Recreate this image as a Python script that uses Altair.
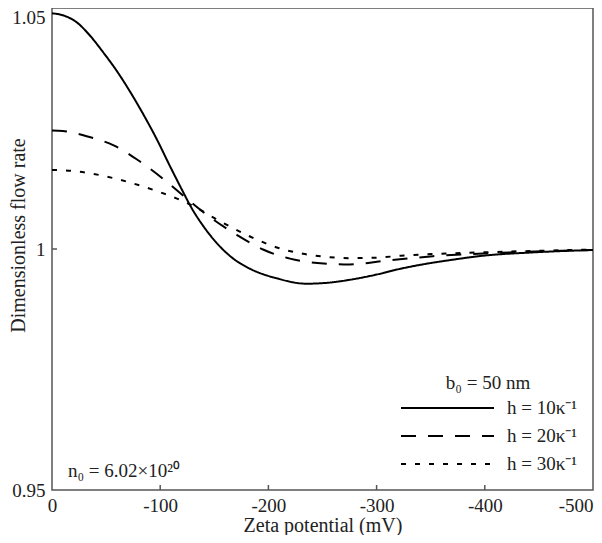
import altair as alt
import pandas as pd

# ---- data ----
series_names = ["h = 10κ⁻¹", "h = 20κ⁻¹", "h = 30κ⁻¹"]

zeta_10 = [0, -10, -23, -35, -47, -60, -72, -84, -97, -109, -121, -128, -140, -152, -167,
           -183, -208, -235, -255, -275, -300, -322, -345, -368, -398, -445, -500]
flow_10 = [1.0489, 1.0485, 1.0470, 1.0443, 1.0409, 1.0369, 1.0327, 1.0281, 1.0227, 1.0172,
           1.0119, 1.0089, 1.0047, 1.0013, 0.9981, 0.9959, 0.9939, 0.9928, 0.9930, 0.9936,
           0.9947, 0.9959, 0.9969, 0.9977, 0.9986, 0.9993, 0.9998]

zeta_20 = [0, -10, -32, -57, -81, -103, -120, -128, -146, -171, -195, -220, -251, -275,
           -306, -352, -414, -500]
flow_20 = [1.0246, 1.0245, 1.0234, 1.0215, 1.0182, 1.0145, 1.0113, 1.0098, 1.0066, 1.0029,
           0.9999, 0.9980, 0.9970, 0.9968, 0.9975, 0.9985, 0.9992, 0.9998]

zeta_30 = [0, -23, -47, -72, -97, -115, -128, -155, -183, -208, -232, -257, -275, -300,
           -322, -383, -445, -500]
flow_30 = [1.0164, 1.0161, 1.0152, 1.0138, 1.0120, 1.0105, 1.0092, 1.0058, 1.0026, 1.0003,
           0.9990, 0.9983, 0.9981, 0.9982, 0.9986, 0.9992, 0.9996, 0.9999]

x_ticks = [0, -100, -200, -300, -400, -500]
y_ticks = [0.95, 1, 1.05]
x_inner_ticks = [-100, -200, -300, -400]
y_inner_ticks = [1]

legend_title = "b₀ = 50 nm"
note_text = "n₀ = 6.02×10²⁰"
x_title = "Zeta potential (mV)"
y_title = "Dimensionless flow rate"

# ---- table built from the arrays ----
rows = []
for name, xs, ys in zip(series_names, [zeta_10, zeta_20, zeta_30], [flow_10, flow_20, flow_30]):
    for i, (xv, yv) in enumerate(zip(xs, ys)):
        rows.append({"series": name, "zeta": xv, "flow": yv, "order": i})
df = pd.DataFrame(rows)

W, H = 541, 482
FONT = "Liberation Serif"
INK = "#222222"
FRAME = "#555555"

xscale = alt.Scale(domain=[0, -500], nice=False)
yscale = alt.Scale(domain=[0.95, 1.05], nice=False, zero=False)

x_axis = alt.Axis(values=x_ticks, title=x_title,
                  labelExpr="datum.value == 0 ? '0' : '-' + abs(datum.value)",
                  ticks=False, domain=False, grid=False, labelPadding=6,
                  labelAlign={"condition": {"test": "datum.value == -500", "value": "right"},
                              "value": "center"},
                  titleY=25)
y_axis = alt.Axis(values=y_ticks, format="~g", title=y_title,
                  ticks=False, domain=False, grid=False, labelPadding=7,
                  labelOffset={"condition": {"test": "datum.value > 1.04", "value": 9},
                               "value": 0},
                  titleX=-24, titleY=227)

lines = alt.Chart(df).mark_line(strokeWidth=2, color="black", interpolate="monotone").encode(
    x=alt.X("zeta:Q", scale=xscale, axis=x_axis),
    y=alt.Y("flow:Q", scale=yscale, axis=y_axis),
    strokeDash=alt.StrokeDash(
        "series:N",
        scale=alt.Scale(domain=series_names, range=[[1, 0], [15, 12], [5, 9]]),
        legend=alt.Legend(title=legend_title, orient="none", legendX=348, legendY=366,
                          symbolType="stroke", symbolSize=8649, symbolStrokeWidth=2,
                          symbolStrokeColor="black", clipHeight=28, rowPadding=0,
                          labelOffset=12, titlePadding=1, titleAnchor="middle",
                          labelFont=FONT, labelFontSize=19, titleFont=FONT,
                          titleFontSize=19, titleFontWeight="normal",
                          labelColor=INK, titleColor=INK, padding=0),
    ),
    order="order:Q",
)

xt = alt.Chart(pd.DataFrame({"zeta": x_inner_ticks})).mark_rule(color=FRAME, strokeWidth=1.5).encode(
    x=alt.X("zeta:Q", scale=xscale, axis=x_axis, title=x_title),
    y=alt.value(H), y2=alt.value(H - 5),
)
yt = alt.Chart(pd.DataFrame({"flow": y_inner_ticks})).mark_rule(color=FRAME, strokeWidth=1.5).encode(
    y=alt.Y("flow:Q", scale=yscale, axis=y_axis, title=y_title),
    x=alt.value(0), x2=alt.value(5),
)

note = alt.Chart(pd.DataFrame({"t": [note_text]})).mark_text(
    align="left", baseline="middle", font=FONT, fontSize=19, color=INK
).encode(text="t:N", x=alt.value(16), y=alt.value(463))

chart = alt.layer(lines, xt, yt, note).properties(
    width=W, height=H,
    padding={"left": 44, "top": 0, "right": 1, "bottom": 45},
    autosize=alt.AutoSizeParams(type="none"),
).configure_view(stroke=FRAME, strokeWidth=1.5).configure_axis(
    labelFont=FONT, titleFont=FONT, labelFontSize=19, titleFontSize=20,
    labelColor=INK, titleColor=INK, titleFontWeight="normal",
)

chart.save("out.html", embed_options={"renderer": "svg", "actions": False})
